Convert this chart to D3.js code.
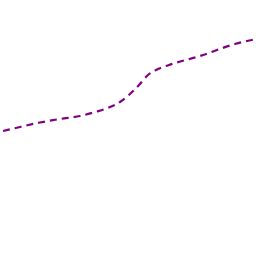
<!DOCTYPE html>
<html>
<head>
<meta charset="utf-8">
<script src="https://cdn.jsdelivr.net/npm/d3@7"></script>
<style>
  html, body { margin: 0; padding: 0; background: #fff; }
  svg { display: block; }
</style>
</head>
<body>
<svg id="chart"></svg>
<script>
const width = 256, height = 256;

// series
const steps = [3, 20, 40, 60, 80, 95, 108, 120, 130, 139, 148, 158, 169, 200, 235, 256];
const values = [125, 129, 133.5, 137, 140, 144, 148, 154, 162, 171, 181, 187, 191, 200, 212, 217];

const svg = d3.select('#chart')
    .attr('width', width)
    .attr('height', height);

const x = d3.scaleLinear()
    .domain([0, 256])
    .range([0, width]);
const y = d3.scaleLinear()
    .domain([0, 256])
    .range([height, 0]);

const line = d3.line()
    .x((d, i) => x(steps[i]))
    .y(d => y(d))
    .curve(d3.curveMonotoneX);

svg.append('path')
    .datum(values)
    .attr('d', line)
    .attr('fill', 'none')
    .attr('stroke', '#800080')
    .attr('stroke-width', 2.2)
    .attr('stroke-dasharray', '7,5');
</script>
</body>
</html>
